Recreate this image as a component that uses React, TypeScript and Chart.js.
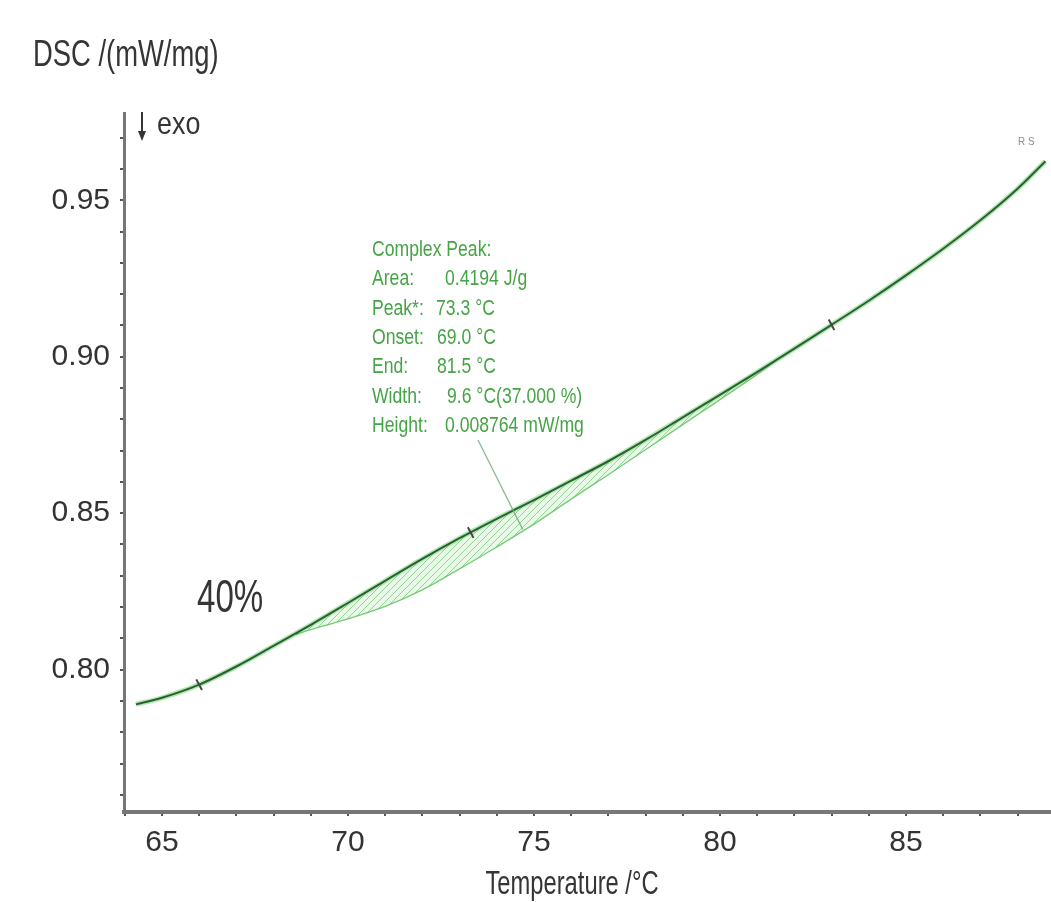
import React, { useEffect, useRef } from 'react';
import { Chart, registerables } from 'chart.js';

Chart.register(...registerables);

// ---------- data ----------
const temperature = [64.3, 65, 66, 67, 68, 69, 70, 71, 72, 73, 74, 75, 76, 77, 78, 79, 80, 81, 82, 83, 84, 85, 86, 87, 88, 88.75];
const dsc = [0.7889, 0.791, 0.7952, 0.801, 0.8076, 0.8143, 0.8213, 0.8284, 0.8354, 0.842, 0.8482, 0.8542, 0.8604, 0.8666, 0.8734, 0.8806, 0.8878, 0.8951, 0.9026, 0.9102, 0.9179, 0.926, 0.9345, 0.9436, 0.9537, 0.9625];

const baselineTemperature = [68.6, 69, 70, 71, 72, 73, 74, 75, 76, 77, 78, 79, 80, 81, 81.5];
const baselineDsc = [0.8112, 0.8128, 0.8162, 0.8202, 0.8255, 0.8322, 0.8392, 0.8465, 0.8545, 0.8623, 0.8703, 0.8783, 0.8863, 0.8943, 0.8988];

const markerTemperature = [66.0, 73.3, 83.0];
const markerDsc = [0.7952, 0.8438, 0.9102];

const xLabelTicks = [65, 70, 75, 80, 85];
const yLabelTicks = [0.8, 0.85, 0.9, 0.95];

const peakLabels = ['Complex Peak:', 'Area:', 'Peak*:', 'Onset:', 'End:', 'Width:', 'Height:'];
const peakValues = ['', '0.4194 J/g', '73.3 °C', '69.0 °C', '81.5 °C', '9.6 °C(37.000 %)', '0.008764 mW/mg'];
const leaderTarget = { x: 74.7, y: 0.8505 };

const X_MIN = 63.98;
const X_MAX = 88.9;
const Y_MIN = 0.7545;
const Y_MAX = 0.9779;

const FONT = "'Liberation Sans', Arial, sans-serif";

function makeHatch(): CanvasPattern | string {
  const c = document.createElement('canvas');
  c.width = 7;
  c.height = 7;
  const g = c.getContext('2d');
  if (!g) return 'rgba(150,220,150,0.35)';
  g.fillStyle = 'rgba(190,238,190,0.35)';
  g.fillRect(0, 0, 7, 7);
  g.strokeStyle = 'rgba(90,185,90,0.6)';
  g.lineWidth = 1;
  g.beginPath();
  g.moveTo(0, 7);
  g.lineTo(7, 0);
  g.stroke();
  return g.createPattern(c, 'repeat') || 'rgba(150,220,150,0.35)';
}

function drawText(
  ctx: CanvasRenderingContext2D,
  text: string,
  x: number,
  y: number,
  size: number,
  sx: number,
  align: CanvasTextAlign = 'left'
) {
  ctx.save();
  ctx.font = `${size}px ${FONT}`;
  ctx.textAlign = align;
  ctx.textBaseline = 'alphabetic';
  ctx.translate(x, y);
  ctx.scale(sx, 1);
  ctx.fillText(text, 0, 0);
  ctx.restore();
}

const decorPlugin = {
  id: 'decor',
  afterDraw(chart: any) {
    const ctx = chart.ctx as CanvasRenderingContext2D;
    const xs = chart.scales.x;
    const ys = chart.scales.y;
    ctx.save();

    ctx.fillStyle = '#353535';
    // Y axis title (top-left)
    drawText(ctx, 'DSC /(mW/mg)', 33, 66, 37, 0.74);

    // exo arrow
    ctx.strokeStyle = '#353535';
    ctx.lineWidth = 2;
    ctx.beginPath();
    ctx.moveTo(142, 112);
    ctx.lineTo(142, 134);
    ctx.stroke();
    ctx.beginPath();
    ctx.moveTo(138, 131);
    ctx.lineTo(146, 131);
    ctx.lineTo(142, 141);
    ctx.closePath();
    ctx.fill();
    drawText(ctx, 'exo', 157, 134, 32, 0.84);

    // 40%
    drawText(ctx, '40%', 197, 612, 46, 0.72);

    // X axis title
    drawText(ctx, 'Temperature /°C', 572, 894, 33, 0.72, 'center');

    // small mark top right
    ctx.fillStyle = '#8a8a8a';
    drawText(ctx, 'R S', 1018, 145, 11, 0.9);

    // peak annotation
    ctx.fillStyle = '#45a445';
    const valueX = [0, 445, 436, 437, 437, 447, 445];
    for (let i = 0; i < peakLabels.length; i++) {
      const y = 256 + i * 29.3;
      drawText(ctx, peakLabels[i], 372, y, 22, 0.8);
      if (peakValues[i]) drawText(ctx, peakValues[i], valueX[i], y, 22, 0.8);
    }

    // leader line
    ctx.strokeStyle = 'rgba(110,170,120,0.85)';
    ctx.lineWidth = 1.2;
    ctx.beginPath();
    ctx.moveTo(478, 440);
    ctx.lineTo(xs.getPixelForValue(leaderTarget.x), ys.getPixelForValue(leaderTarget.y) + 18);
    ctx.stroke();

    ctx.restore();
  },
};

export default function App() {
  const ref = useRef<HTMLCanvasElement | null>(null);

  useEffect(() => {
    document.body.style.margin = '0';
    const canvas = ref.current;
    if (!canvas) return;

    const mainPts = temperature.map((t, i) => ({ x: t, y: dsc[i] }));
    const basePts = baselineTemperature.map((t, i) => ({ x: t, y: baselineDsc[i] }));
    const markPts = markerTemperature.map((t, i) => ({ x: t, y: markerDsc[i] }));

    const chart = new Chart(canvas, {
      type: 'line',
      data: {
        datasets: [
          {
            label: 'DSC halo',
            data: mainPts,
            borderColor: 'rgba(100,210,100,0.5)',
            borderWidth: 5,
            pointRadius: 0,
            cubicInterpolationMode: 'monotone',
            fill: false,
            order: 3,
          },
          {
            label: 'DSC',
            data: mainPts,
            borderColor: '#2a5f32',
            borderWidth: 2,
            pointRadius: 0,
            cubicInterpolationMode: 'monotone',
            fill: false,
            order: 1,
          },
          {
            label: 'Baseline',
            data: basePts,
            borderColor: 'rgba(95,195,95,0.85)',
            borderWidth: 1.3,
            pointRadius: 0,
            cubicInterpolationMode: 'monotone',
            fill: { target: 1 },
            backgroundColor: makeHatch() as any,
            order: 2,
          },
          {
            label: 'Markers',
            data: markPts,
            showLine: false,
            pointStyle: 'line',
            rotation: 62,
            pointRadius: 6,
            borderColor: '#454545',
            borderWidth: 2,
            pointBorderColor: '#454545',
            pointBorderWidth: 2,
            order: 0,
          } as any,
        ],
      },
      options: {
        animation: false,
        responsive: false,
        events: [],
        layout: { autoPadding: false, padding: { top: 113, right: 0, left: 0, bottom: 0 } },
        plugins: {
          legend: { display: false },
          tooltip: { enabled: false },
          title: { display: false },
        },
        scales: {
          x: {
            type: 'linear',
            min: X_MIN,
            max: X_MAX,
            afterBuildTicks: (scale: any) => {
              const t = [];
              for (let v = Math.ceil(X_MIN); v <= Math.floor(X_MAX); v++) t.push({ value: v });
              scale.ticks = t;
            },
            afterFit: (scale: any) => {
              scale.height = 90;
              scale.paddingLeft = 0;
              scale.paddingRight = 0;
            },
            grid: {
              drawOnChartArea: false,
              drawTicks: true,
              tickLength: 4,
              color: '#555',
              lineWidth: 2,
            },
            border: { display: true, color: '#777', width: 4 },
            ticks: {
              autoSkip: false,
              maxRotation: 0,
              padding: 9,
              color: '#333',
              font: { family: FONT, size: 30 },
              callback: (v: any) => (xLabelTicks.includes(Number(v)) ? String(v) : ''),
            },
          },
          y: {
            type: 'linear',
            min: Y_MIN,
            max: Y_MAX,
            afterBuildTicks: (scale: any) => {
              const t = [];
              for (let i = Math.ceil(Y_MIN * 100); i <= Math.floor(Y_MAX * 100); i++) t.push({ value: i / 100 });
              scale.ticks = t;
            },
            afterFit: (scale: any) => {
              scale.width = 124;
              scale.paddingTop = 0;
              scale.paddingBottom = 0;
            },
            grid: {
              drawOnChartArea: false,
              drawTicks: true,
              tickLength: 4,
              color: '#555',
              lineWidth: 2,
            },
            border: { display: true, color: '#777', width: 3 },
            ticks: {
              autoSkip: false,
              padding: 10,
              color: '#333',
              font: { family: FONT, size: 30 },
              callback: (v: any) => {
                const n = Math.round(Number(v) * 100);
                return yLabelTicks.some((y) => Math.round(y * 100) === n) ? (n / 100).toFixed(2) : '';
              },
            },
          },
        },
      },
      plugins: [decorPlugin],
    });

    return () => chart.destroy();
  }, []);

  return (
    <div style={{ width: 1051, height: 902, background: '#fff' }}>
      <canvas ref={ref} width={1051} height={902} style={{ display: 'block' }} />
    </div>
  );
}
